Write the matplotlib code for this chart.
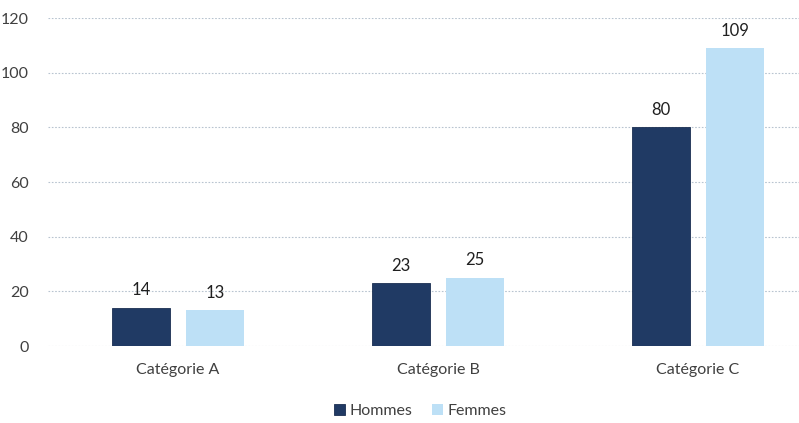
import matplotlib
matplotlib.use("Agg")
import matplotlib.pyplot as plt
import numpy as np

categories = ["Catégorie A", "Catégorie B", "Catégorie C"]
hommes = [14, 23, 80]
femmes = [13, 25, 109]
series_names = ["Hommes", "Femmes"]
yticks = [0, 20, 40, 60, 80, 100, 120]

plt.rcParams['font.family'] = ['Lato', 'DejaVu Sans']
text_color = '#404040'
dark = '#203a64'
light = '#bde0f6'

fig = plt.figure(figsize=(7.99, 4.23), dpi=100)
ax = fig.add_axes([48/799, 1-346/423, (799-48)/799, (346-18)/423])

x = np.arange(len(categories))
w = 0.223
off = 0.143
b1 = ax.bar(x - off, hommes, w, color=dark, label=series_names[0], edgecolor='#1a2f52', linewidth=0.6, zorder=3)
b2 = ax.bar(x + off, femmes, w, color=light, label=series_names[1], zorder=3)

for bars, vals in ((b1, hommes), (b2, femmes)):
    for r, v in zip(bars, vals):
        ax.text(r.get_x() + r.get_width()/2, v + 3.5, str(v), ha='center', va='bottom',
                fontsize=12, color='#202020')

ax.set_ylim(0, 120)
ax.set_xlim(-0.5, (799-178)/260)
ax.set_yticks(yticks)
ax.set_yticklabels([str(t) for t in yticks], fontsize=11.5, color=text_color)
ax.set_xticks(x)
ax.set_xticklabels(categories, fontsize=11.5, color=text_color)
ax.tick_params(length=0, pad=10)
ax.tick_params(axis='y', pad=14)
ax.tick_params(axis='x', pad=12)
for s in ax.spines.values():
    s.set_visible(False)
ax.yaxis.grid(True, color='#b8c4d0', linestyle=(0, (1.5, 1.5)), linewidth=0.8, zorder=0)
ax.set_axisbelow(True)

fig.legend(handles=[b1, b2], labels=series_names, loc='center', bbox_to_anchor=(420/799, 1-411/423),
           ncol=2, frameon=False, fontsize=11.5, handlelength=0.7, handleheight=0.7,
           handletextpad=0.3, columnspacing=1.2, labelcolor=text_color)

fig.savefig("out.png", dpi=100)
